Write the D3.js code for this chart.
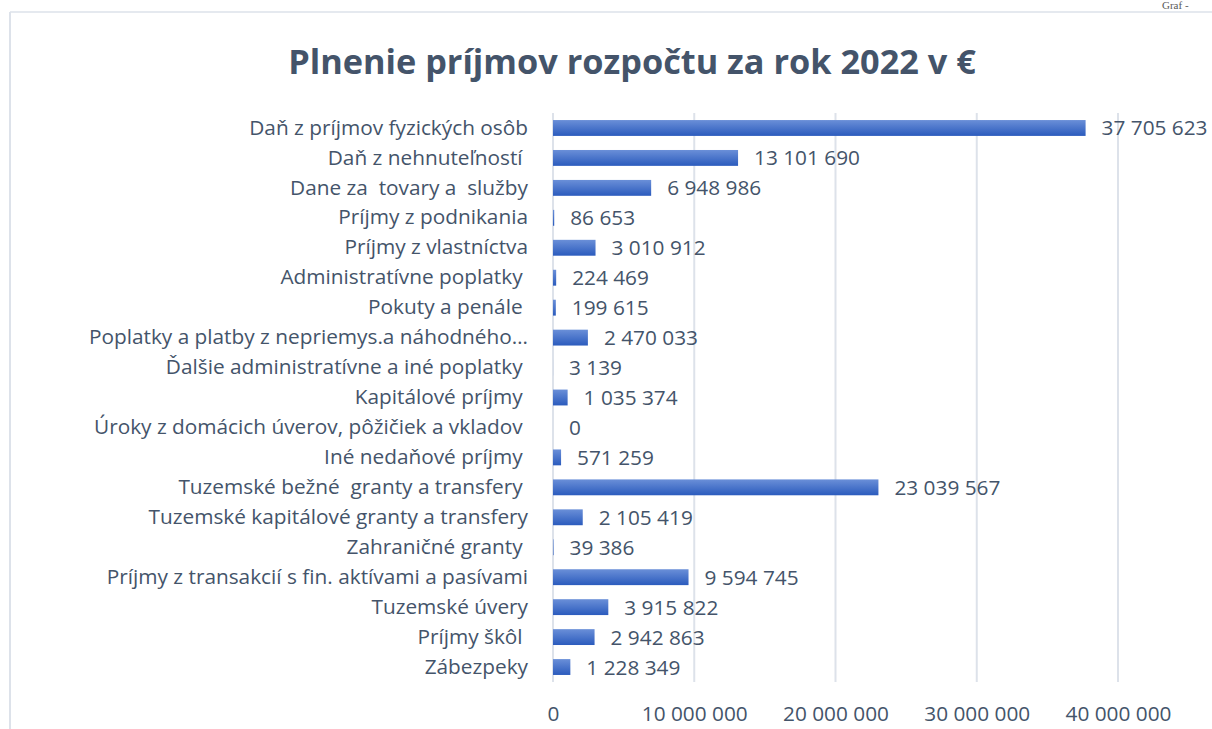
<!DOCTYPE html>
<html><head><meta charset="utf-8">
<script src="https://cdn.jsdelivr.net/npm/d3@7"></script>
<style>body{margin:0;background:#fff;}svg{display:block;}</style>
</head><body>
<svg id="c" width="1212" height="729"></svg>
<script>
const categories = [
"Daň z príjmov fyzických osôb","Daň z nehnuteľností","Dane za  tovary a  služby","Príjmy z podnikania","Príjmy z vlastníctva","Administratívne poplatky","Pokuty a penále","Poplatky a platby z nepriemys.a náhodného…","Ďalšie administratívne a iné poplatky","Kapitálové príjmy","Úroky z domácich úverov, pôžičiek a vkladov","Iné nedaňové príjmy","Tuzemské bežné  granty a transfery","Tuzemské kapitálové granty a transfery","Zahraničné granty","Príjmy z transakcií s fin. aktívami a pasívami","Tuzemské úvery","Príjmy škôl","Zábezpeky"];
const categoryLabels = [
"Daň z príjmov fyzických osôb","Daň z nehnuteľností ","Dane za  tovary a  služby","Príjmy z podnikania","Príjmy z vlastníctva","Administratívne poplatky ","Pokuty a penále ","Poplatky a platby z nepriemys.a náhodného…","Ďalšie administratívne a iné poplatky ","Kapitálové príjmy ","Úroky z domácich úverov, pôžičiek a vkladov ","Iné nedaňové príjmy ","Tuzemské bežné  granty a transfery ","Tuzemské kapitálové granty a transfery","Zahraničné granty ","Príjmy z transakcií s fin. aktívami a pasívami","Tuzemské úvery","Príjmy škôl ","Zábezpeky"];
const values = [37705623,13101690,6948986,86653,3010912,224469,199615,2470033,3139,1035374,0,571259,23039567,2105419,39386,9594745,3915822,2942863,1228349];
const tickValues = [0,10000000,20000000,30000000,40000000];
const title = "Plnenie príjmov rozpočtu za rok 2022 v €";

const svg = d3.select("#c");
const font = "'Open Sans', sans-serif";
const fmt = v => d3.format(",")(v).replace(/,/g," ");
const textColor = "#44546a";

// frame
svg.append("line").attr("x1",10).attr("y1",12).attr("x2",1212).attr("y2",12).attr("stroke","#dde2ea").attr("stroke-width",1.5);
svg.append("line").attr("x1",10).attr("y1",12).attr("x2",10).attr("y2",729).attr("stroke","#dde2ea").attr("stroke-width",2);
svg.append("text").attr("x",1162).attr("y",9).attr("font-family","'Liberation Serif', serif").attr("font-size",11).attr("fill","#595959").text("Graf -");

const x = d3.scaleLinear().domain([0,40000000]).range([553,1118]);
const y = d3.scaleBand().domain(categories).range([113,682]).paddingInner(0.47).paddingOuter(0.235);

const defs = svg.append("defs");
const g = defs.append("linearGradient").attr("id","bg").attr("x1",0).attr("y1",0).attr("x2",0).attr("y2",1);
g.append("stop").attr("offset","0%").attr("stop-color","#6a8fd8");
g.append("stop").attr("offset","100%").attr("stop-color","#2b5bbd");

// gridlines
svg.append("g").selectAll("line").data(tickValues).join("line")
  .attr("x1",d=>x(d)).attr("x2",d=>x(d)).attr("y1",113).attr("y2",682)
  .attr("stroke","#dde2ea").attr("stroke-width",2);

// bars
svg.append("g").selectAll("rect").data(values).join("rect")
  .attr("x",x(0)).attr("y",(d,i)=>y(categories[i]))
  .attr("width",d=>Math.max(0,x(d)-x(0))).attr("height",y.bandwidth())
  .attr("fill","url(#bg)");

// value labels
svg.append("g").selectAll("text").data(values).join("text")
  .attr("x",d=>x(d)+16).attr("y",(d,i)=>y(categories[i])+y.bandwidth()/2)
  .attr("dy","0.36em").attr("font-family",font).attr("font-size",20.8).attr("fill",textColor)
  .text(d=>fmt(d));

// category axis
const yAxis = d3.axisLeft(y).tickSize(0).tickPadding(0).tickFormat((d,i)=>categoryLabels[i]);
const ya = svg.append("g").attr("transform","translate(528,0)").call(yAxis);
ya.select(".domain").remove();
ya.selectAll("text").attr("font-family",font).attr("font-size",20.8).attr("fill",textColor).attr("style","white-space:pre");

// x axis
const xAxis = d3.axisBottom(x).tickValues(tickValues).tickSize(0).tickPadding(0).tickFormat(fmt);
const xa = svg.append("g").attr("transform","translate(0,706)").call(xAxis);
xa.select(".domain").remove();
xa.selectAll("text").attr("font-family",font).attr("font-size",20.8).attr("fill",textColor);

svg.append("text").attr("x",632).attr("y",74).attr("text-anchor","middle")
  .attr("font-family",font).attr("font-weight","bold").attr("font-size",34.3).attr("fill",textColor).text(title);
</script>
</body></html>
